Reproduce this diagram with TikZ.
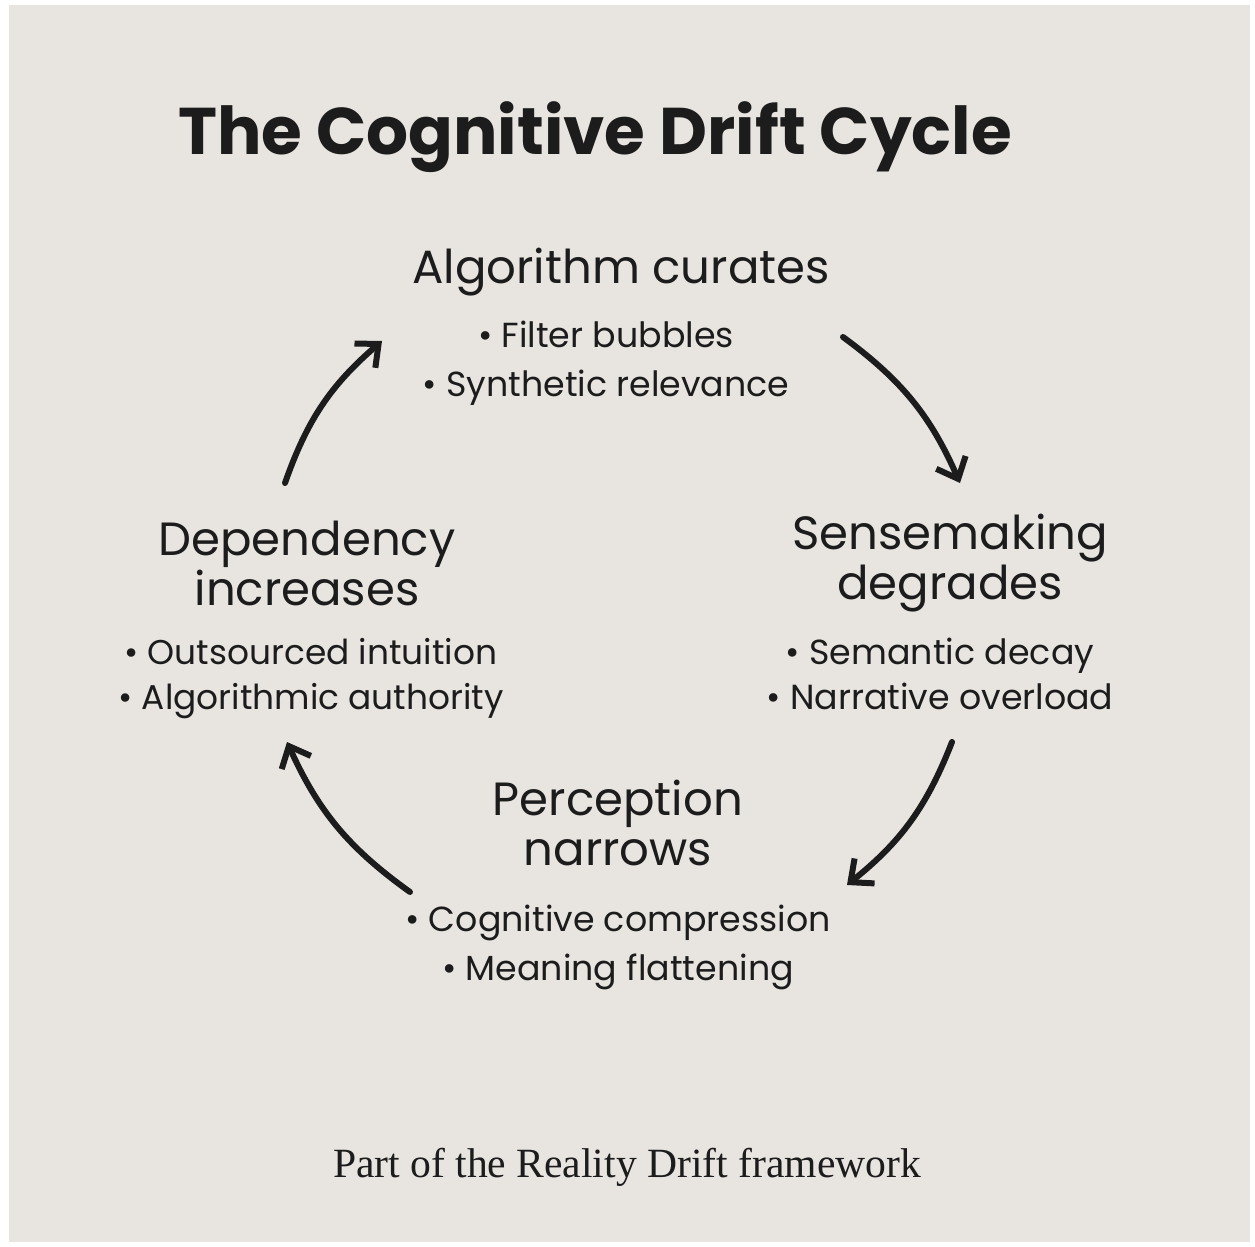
\documentclass[tikz,border=0pt]{standalone}
\usepackage{fontspec}
\setmainfont{Liberation Serif}
\newfontfamily\sansface{Poppins}
\usetikzlibrary{positioning,arrows.meta}

\definecolor{paper}{HTML}{E8E4E0}
\definecolor{ink}{HTML}{1C1C1C}

\tikzset{
  stage/.style={font=\sansface\fontsize{23.3}{25}\selectfont, align=center, text=ink, inner sep=0pt},
  items/.style={font=\sansface\fontsize{17.4}{24.5}\selectfont, align=center, text=ink, inner sep=0pt},
  flow/.style={-{Straight Barb[length=9pt,width=16pt]}, line width=3pt, draw=ink, line cap=round}
}

\begin{document}
\begin{tikzpicture}[x=0.5pt, y=-0.5pt, node distance=10pt]
  \useasboundingbox (0,0) rectangle (1255,1247);
  \fill[white] (0,0) rectangle (1255,1247);
  \fill[paper] (9,5) rectangle (1250,1242);

  \node[font=\sansface\bfseries\fontsize{33}{36}\selectfont, text=ink] (title) at (595,137) {The Cognitive Drift Cycle};

  % the four stages
  \node[stage] (curates) at (621,272) {Algorithm curates};
  \node[items, below=12pt of curates, xshift=-7.5pt] (curatesL) {• Filter bubbles\\ • Synthetic relevance};

  \node[stage] (degrades) at (950,563) {Sensemaking\\ degrades};
  \node[items, below=12.5pt of degrades, xshift=-5pt, font=\sansface\fontsize{17.4}{22.5}\selectfont] (degradesL) {• Semantic decay\\ • Narrative overload};

  \node[stage] (narrows) at (618,823) {Perception\\ narrows};
  \node[items, below=19pt of narrows] (narrowsL) {• Cognitive compression\\ • Meaning flattening};

  \node[stage] (increases) at (307,563) {Dependency\\ increases};
  \node[items, below=16pt of increases, xshift=2pt, font=\sansface\fontsize{17.2}{22.5}\selectfont] (increasesL) {• Outsourced intuition\\ • Algorithmic authority};

  \node[text=ink, font=\fontsize{20.8}{24}\selectfont] (footer) at (627,1167) {Part of the Reality Drift framework};

  % arrow ends
  \coordinate (a1) at (843,337);
  \coordinate (a2) at (960,483);
  \coordinate (b1) at (952,742);
  \coordinate (b2) at (847,885);
  \coordinate (c1) at (410,892);
  \coordinate (c2) at (287,742);
  \coordinate (d1) at (285,483);
  \coordinate (d2) at (382,341);

  \draw[flow] (a1) to[bend left=15] (a2);
  \draw[flow] (b1) to[bend left=15] (b2);
  \draw[flow] (c1) to[bend left=15] (c2);
  \draw[flow] (d1) to[bend left=15] (d2);

\end{tikzpicture}
\end{document}
